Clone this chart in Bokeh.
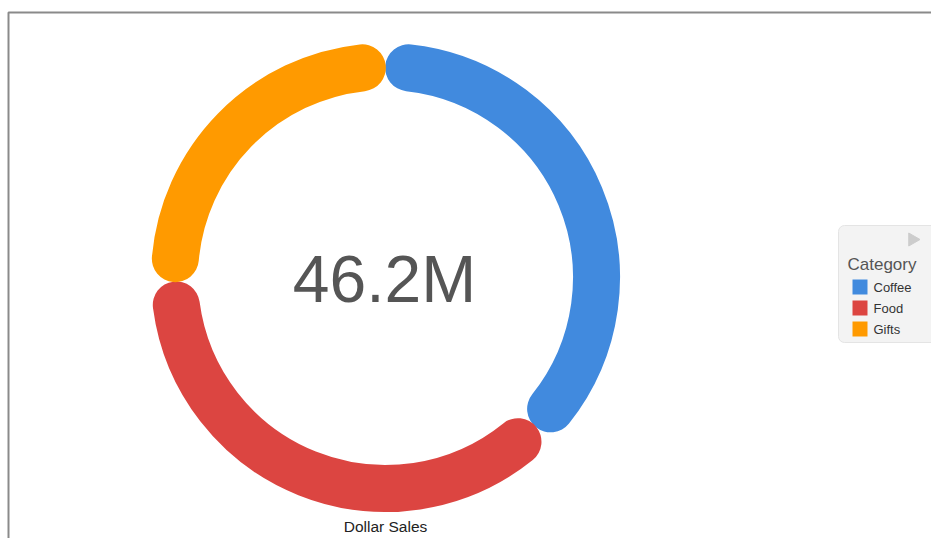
import math
from bokeh.plotting import figure
from bokeh.models import Range1d, BoxAnnotation
from bokeh.core.properties import value
from bokeh.embed import file_html
from bokeh.resources import INLINE

# ---- data ----
categories = ["Coffee", "Food", "Gifts"]
sales_m = [17.3, 17.2, 11.7]
colors = ["#418ADE", "#DC4541", "#FF9A00"]
total_label = "46.2M"
axis_title = "Dollar Sales"
legend_title = "Category"

W, H = 931, 538
def fx(px):
    return px
def fy(py):
    return H - py

p = figure(width=W, height=H, output_backend="svg", toolbar_location=None,
           x_range=Range1d(0, W), y_range=Range1d(0, H), min_border=0,
           x_axis_location=None, y_axis_location=None)
p.grid.visible = False
p.outline_line_color = None
p.background_fill_color = "white"
p.border_fill_color = "white"

# container border (top and left visible; right/bottom beyond the window)
p.add_layout(BoxAnnotation(left=fx(8), right=fx(W + 20), top=fy(12), bottom=fy(H + 20),
                           fill_alpha=0, line_color="#8a8a8a", line_alpha=1.0,
                           line_width=2, level="underlay"))

# ---- donut ----
cx, cy = fx(385), fy(277)
R = 211
half_gap = math.radians(6.3)
total = sum(sales_m)
starts, ends = [], []
cum = 0.0
for v in sales_m:
    a0 = cum / total * 2 * math.pi
    a1 = (cum + v) / total * 2 * math.pi
    cum += v
    starts.append(math.pi / 2 - (a0 + half_gap))
    ends.append(math.pi / 2 - (a1 - half_gap))

for s, e, c in zip(starts, ends, colors):
    p.arc(x=cx, y=cy, radius=R, start_angle=s, end_angle=e, direction="clock",
          line_color=c, line_width=47, line_cap="round")

p.text(x=[fx(384)], y=[fy(278)], text=[total_label], text_align="center",
       text_baseline="middle", text_font=value("Liberation Sans"),
       text_font_size="66px", text_color="#555555")

p.text(x=[fx(385)], y=[fy(526)], text=[axis_title], text_align="center",
       text_baseline="middle", text_font=value("Liberation Sans"),
       text_font_size="15.5px", text_color="#222222")

# ---- legend ----
p.add_layout(BoxAnnotation(left=fx(838), right=fx(945), top=fy(225), bottom=fy(342),
                           fill_color="#f3f3f3", fill_alpha=1.0,
                           line_color="#e4e4e4", line_alpha=1.0, line_width=1,
                           border_radius=6, level="underlay"))
p.scatter(x=[fx(912)], y=[fy(239)], marker="triangle", size=13, angle=-math.pi / 2,
          fill_color="#cccccc", line_color="#cccccc")
p.text(x=[fx(847)], y=[fy(264)], text=[legend_title], text_align="left",
       text_baseline="middle", text_font=value("Liberation Sans"),
       text_font_size="17px", text_color="#555555")
item_y = [fy(286.5 + 21 * i) for i in range(len(categories))]
p.rect(x=[fx(859.5)] * len(categories), y=item_y, width=15, height=15,
       fill_color=colors, line_color=None)
p.text(x=[fx(873)] * len(categories), y=item_y, text=categories, text_align="left",
       text_baseline="middle", text_font=value("Liberation Sans"),
       text_font_size="13px", text_color="#333333")

open("out.html", "w").write(file_html(p, INLINE))
